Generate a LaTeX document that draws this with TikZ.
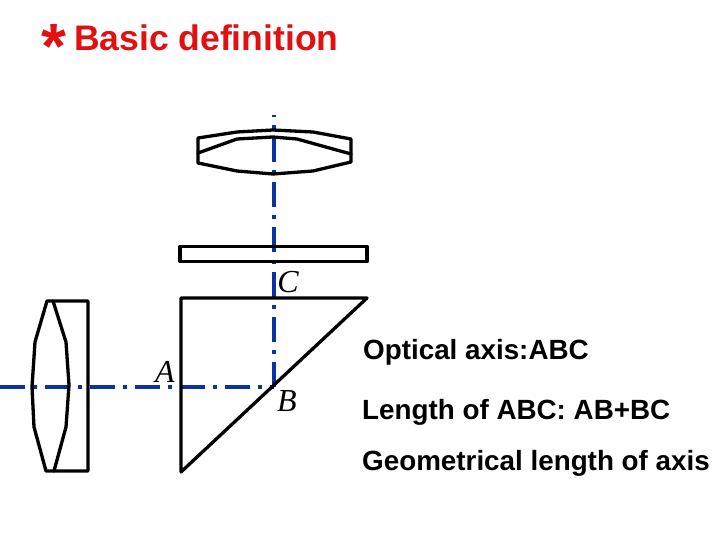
\documentclass[tikz,border=0pt]{standalone}
\usepackage{fontspec}
\setmainfont{Liberation Sans}
\newfontfamily\labelfont{Liberation Serif}
\definecolor{axisblue}{RGB}{10,50,160}
\definecolor{headred}{RGB}{226,16,16}
\tikzset{
  optic/.style={draw=black,line width=3.3pt,line join=round,line cap=round},
  axisline/.style={draw=axisblue,line width=3.4pt,dash pattern=on 25pt off 8pt on 4pt off 8pt},
  pointlabel/.style={inner sep=0pt,font=\labelfont\itshape\fontsize{32}{32}\selectfont,text=black},
  notetext/.style={anchor=base west,inner sep=0pt,font=\bfseries\fontsize{27.8}{28}\selectfont,text=black},
  headtext/.style={anchor=base west,inner sep=0pt,font=\bfseries\fontsize{35.5}{36}\selectfont,text=headred}
}
\begin{document}
\begin{tikzpicture}[x=1pt,y=-1pt]
\useasboundingbox (0,0) rectangle (720,540);
\fill[white] (0,0) rectangle (720,540);
% axis
\coordinate (axA) at (0,387);
\coordinate (axB) at (274,387);
\coordinate (axC) at (274,115);
\draw[axisline] (axA) -- (axB);
\draw[axisline] (axB) -- (axC);
% top lens
\draw[optic] (198,138) -- (237,132) -- (273,130) -- (313,132) -- (351,139) -- (351,162) -- (313,171) -- (273,174) -- (237,171) -- (198,163) -- cycle;
\draw[optic] (198,153) -- (237,139) -- (273,137) -- (297,139) -- (351,154);
% plate
\draw[optic,line cap=butt] (180,246.5) rectangle (367,261.5);
% prism
\draw[optic] (181,298) -- (367,298) -- (181,472) -- cycle;
% left lens
\draw[optic] (47,301) -- (35,342) -- (32,387) -- (34,427) -- (46,471) -- (88,471) -- (88,301) -- cycle;
\draw[optic] (53,301) -- (66,342) -- (69,385) -- (66,427) -- (54,471);
% labels
\node[pointlabel] (lA) at (165,372) {A};
\node[pointlabel] (lB) at (287,401) {B};
\node[pointlabel] (lC) at (288,282) {C};
\node[notetext] (n1) at (363,359) {Optical axis:ABC};
\node[notetext] (n2) at (362,419) {Length of ABC: AB+BC};
\node[notetext] (n3) at (362,470) {Geometrical length of axis};
\node[headtext] (head) at (74,51) {Basic definition};
\node[anchor=base west,inner sep=0pt,font=\bfseries\fontsize{64}{64}\selectfont,text=headred] (star) at (41,69) {*};
\end{tikzpicture}
\end{document}
